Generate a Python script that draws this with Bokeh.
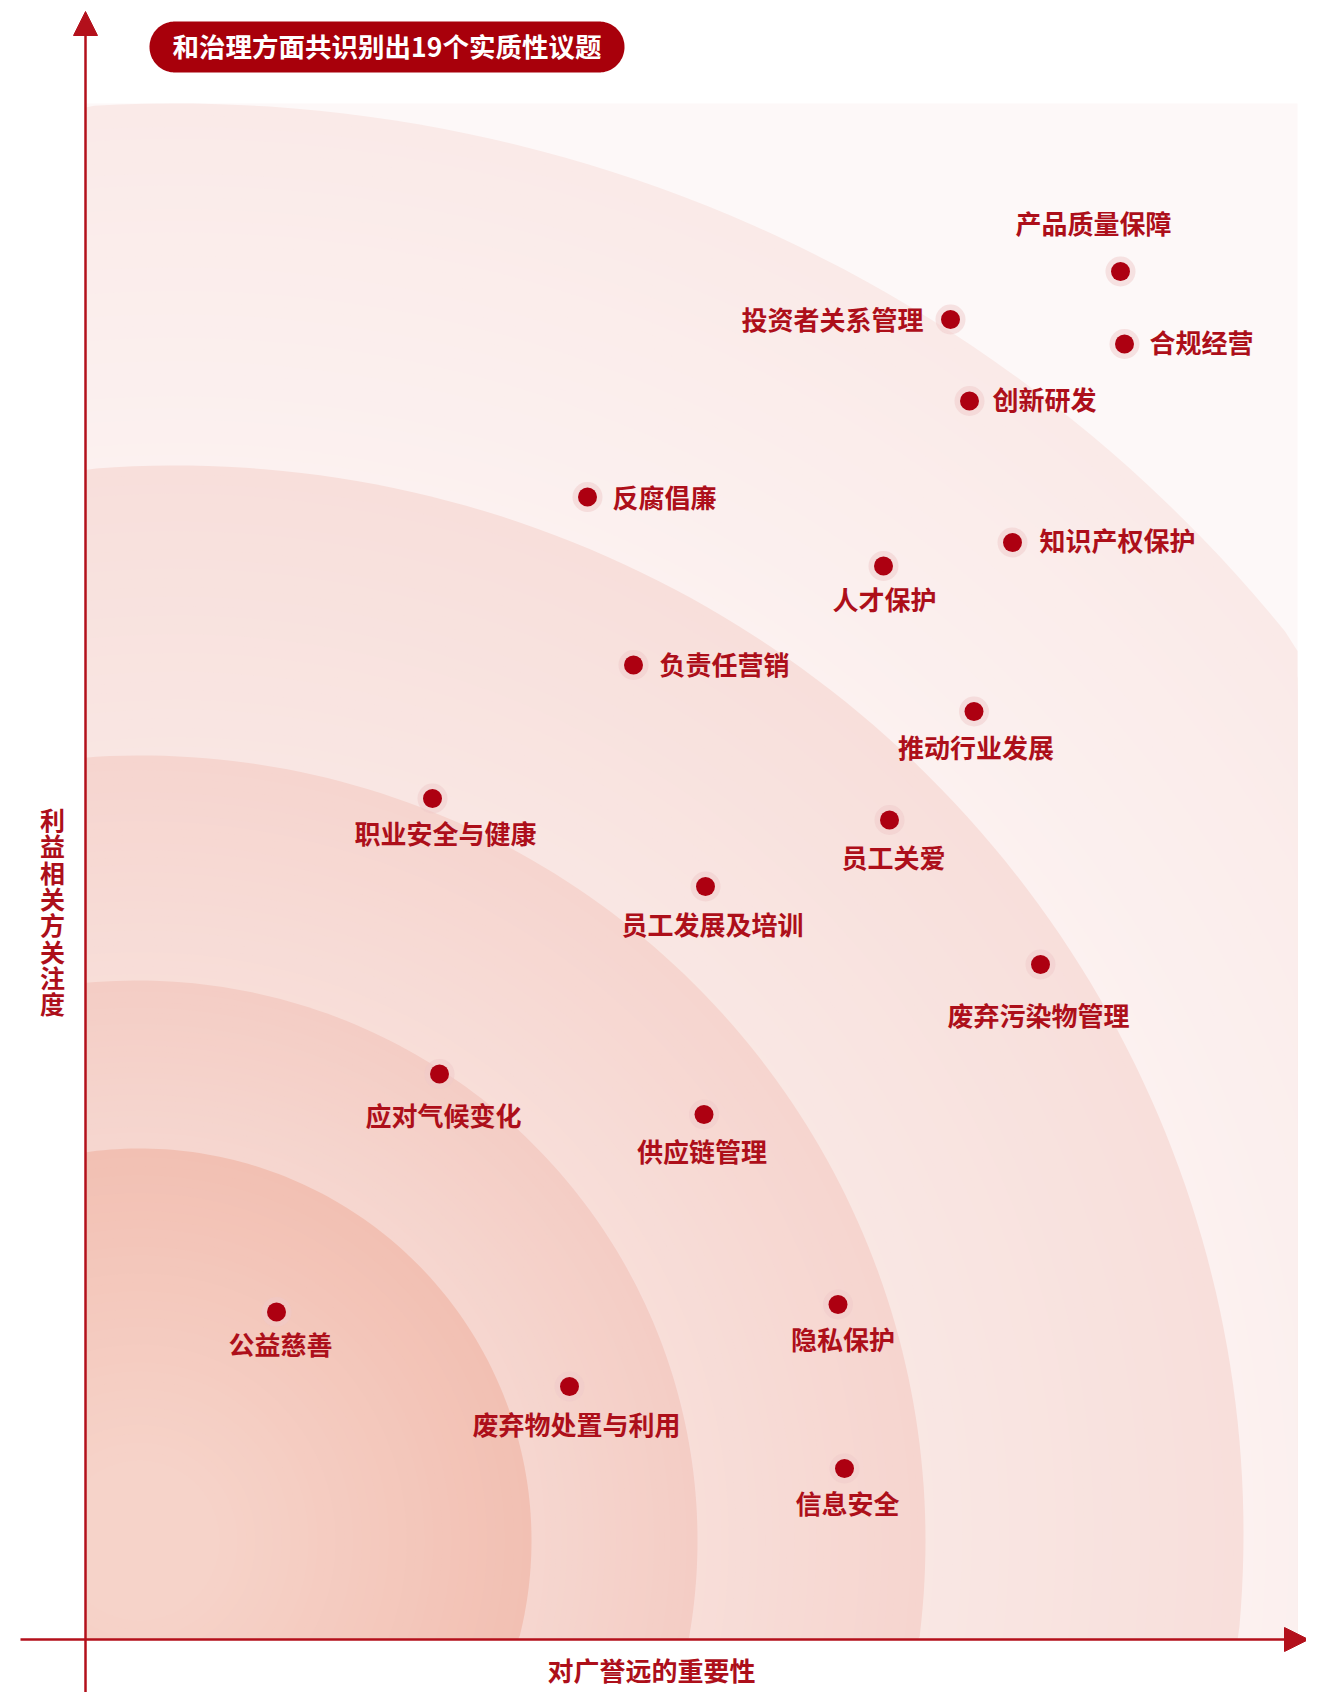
import numpy as np
from bokeh.plotting import figure
from bokeh.models import ColumnDataSource, Range1d, Arrow, NormalHead
from bokeh.core.properties import value
from bokeh.embed import file_html
from bokeh.resources import INLINE

# ---------------- data ----------------
topics = ["产品质量保障", "投资者关系管理", "合规经营", "创新研发", "反腐倡廉",
          "知识产权保护", "人才保护", "负责任营销", "推动行业发展", "职业安全与健康",
          "员工关爱", "员工发展及培训", "废弃污染物管理", "应对气候变化", "供应链管理",
          "公益慈善", "隐私保护", "废弃物处置与利用", "信息安全"]
importance = [10.35, 8.65, 10.39, 8.84, 5.02, 9.27, 7.98, 5.48, 8.885, 3.47,
              8.04, 6.20, 9.55, 3.54, 6.185, 1.91, 7.525, 4.84, 7.59]
concern = [13.68, 13.20, 12.955, 12.385, 11.425, 10.97, 10.735, 9.745, 9.28, 8.41,
           8.195, 7.53, 6.75, 5.655, 5.25, 3.275, 3.35, 2.53, 1.71]

title_text = "和治理方面共识别出19个实质性议题"
x_title = "对广誉远的重要性"
y_title = "利益相关方关注度"

# ---------------- layout (label placement, px) ----------------
label_align = ["center", "right", "left", "left", "left", "left", "center", "left",
               "center", "center", "center", "center", "center", "center", "center",
               "center", "center", "center", "center"]
label_dx = [-27, -27, 25, 23, 25, 27, 1, 26, 2, 13, 4, 7, -2, 4, -2, 4, 5, 7, 3]
label_dy = [-49, -1, -3, -3, -1, -3, 32, -2, 35, 34, 36, 37, 50, 40, 36, 31, 34, 37, 34]

RED = "#ad0011"
TXT = "#ad0f1a"
AXIS = "#b3101b"
FONT = value("Noto Sans CJK SC")

W, H = 1306, 1692
X0, Y0 = -0.85, 16.39
p = figure(width=W, height=H, output_backend="svg", toolbar_location=None,
           x_range=Range1d(X0, X0 + W / 100), y_range=Range1d(Y0 - H / 100, Y0),
           x_axis_location=None, y_axis_location=None, min_border=0)
p.outline_line_color = None
p.grid.visible = False
p.background_fill_color = "white"
p.border_fill_color = "white"

# background panel
XMAX, YMAX = 12.12, 15.36
p.quad(left=[0], right=[XMAX], bottom=[0], top=[YMAX], fill_color="#fdf8f8", line_color=None)

# concentric glow rings (clipped to panel)
rings = [  # cx, cy, r, inner color, edge color, inner radius of visible part
    (0.90, 1.06, 14.30, "#fcf2f1", "#faeae8", 10.2),
    (0.90, 1.06, 10.68, "#f9e7e4", "#f8dfdb", 7.4),
    (0.55, 0.99, 7.85, "#f8dfda", "#f6d5cf", 5.3),
    (0.52, 0.99, 5.60, "#f6d8d1", "#f4cdc5", 3.7),
    (0.54, 0.99, 3.92, "#f6d3c9", "#f2c0b3", 0.8),
]


def hex2rgb(h):
    return np.array([int(h[i:i + 2], 16) for i in (1, 3, 5)], dtype=float)


def rgb2hex(c):
    return "#%02x%02x%02x" % tuple(int(round(v)) for v in c)


t = np.linspace(0, 2 * np.pi, 360)
xs, ys, cols = [], [], []
for cx, cy, r, cin, cedge, rin in rings:
    n = 36
    ci, ce = hex2rgb(cin), hex2rgb(cedge)
    for k in range(n):
        f = k / (n - 1)
        rr = r - (r - rin) * f
        col = ce + (ci - ce) * f
        xs.append(list(np.clip(cx + rr * np.cos(t), 0, XMAX)))
        ys.append(list(np.clip(cy + rr * np.sin(t), 0, YMAX)))
        cols.append(rgb2hex(col))
p.patches(xs, ys, fill_color=cols, line_color=None)

# axes with arrows
p.add_layout(Arrow(end=NormalHead(size=24, fill_color=AXIS, line_color=AXIS, line_width=1),
                   x_start=-0.65, y_start=0, x_end=12.23, y_end=0,
                   line_color=AXIS, line_width=2.5))
p.add_layout(Arrow(end=NormalHead(size=24, fill_color=AXIS, line_color=AXIS, line_width=1),
                   x_start=0, y_start=-0.75, x_end=0, y_end=16.28,
                   line_color=AXIS, line_width=2.5))

# points
src = ColumnDataSource(dict(x=importance, y=concern))
p.scatter("x", "y", source=src, size=30, fill_color="#efcaca", fill_alpha=0.5, line_color=None)
p.scatter("x", "y", source=src, size=19, fill_color=RED, line_color=None)

for al in ("left", "center", "right"):
    idx = [i for i, a in enumerate(label_align) if a == al]
    s = ColumnDataSource(dict(x=[importance[i] for i in idx], y=[concern[i] for i in idx],
                              name=[topics[i] for i in idx], dx=[label_dx[i] for i in idx],
                              dy=[label_dy[i] for i in idx]))
    p.text("x", "y", text="name", source=s, x_offset="dx", y_offset="dy",
           text_align=al, text_baseline="middle", text_font=FONT, text_font_style="bold",
           text_font_size="26px", text_color=TXT)

# title pill
x0, x1, yc, rad = 0.64, 5.39, 15.925, 0.255
a1 = np.linspace(np.pi / 2, 3 * np.pi / 2, 60)
a2 = np.linspace(-np.pi / 2, np.pi / 2, 60)
px = list(x0 + rad + rad * np.cos(a1)) + list(x1 - rad + rad * np.cos(a2))
py = list(yc + rad * np.sin(a1)) + list(yc + rad * np.sin(a2))
p.patch(px, py, fill_color="#a8000b", line_color=None)
p.text([(x0 + x1) / 2], [yc], text=[title_text], text_align="center", text_baseline="middle",
       y_offset=-2, text_font=FONT, text_font_style="bold", text_font_size="26.5px",
       text_color="white")

# axis titles
p.text([5.66], [-0.32], text=[x_title], text_align="center", text_baseline="middle",
       y_offset=-2, text_font=FONT, text_font_style="bold", text_font_size="26px", text_color=TXT)
chars = list(y_title)
ycs = [(1639 - (818.5 + 26.3 * i)) / 100 for i in range(len(chars))]
p.text([-0.33] * len(chars), ycs, text=chars, text_align="center", text_baseline="middle",
       text_font=FONT, text_font_style="bold", text_font_size="25px", text_color=TXT)

open("out.html", "w").write(file_html(p, INLINE))
